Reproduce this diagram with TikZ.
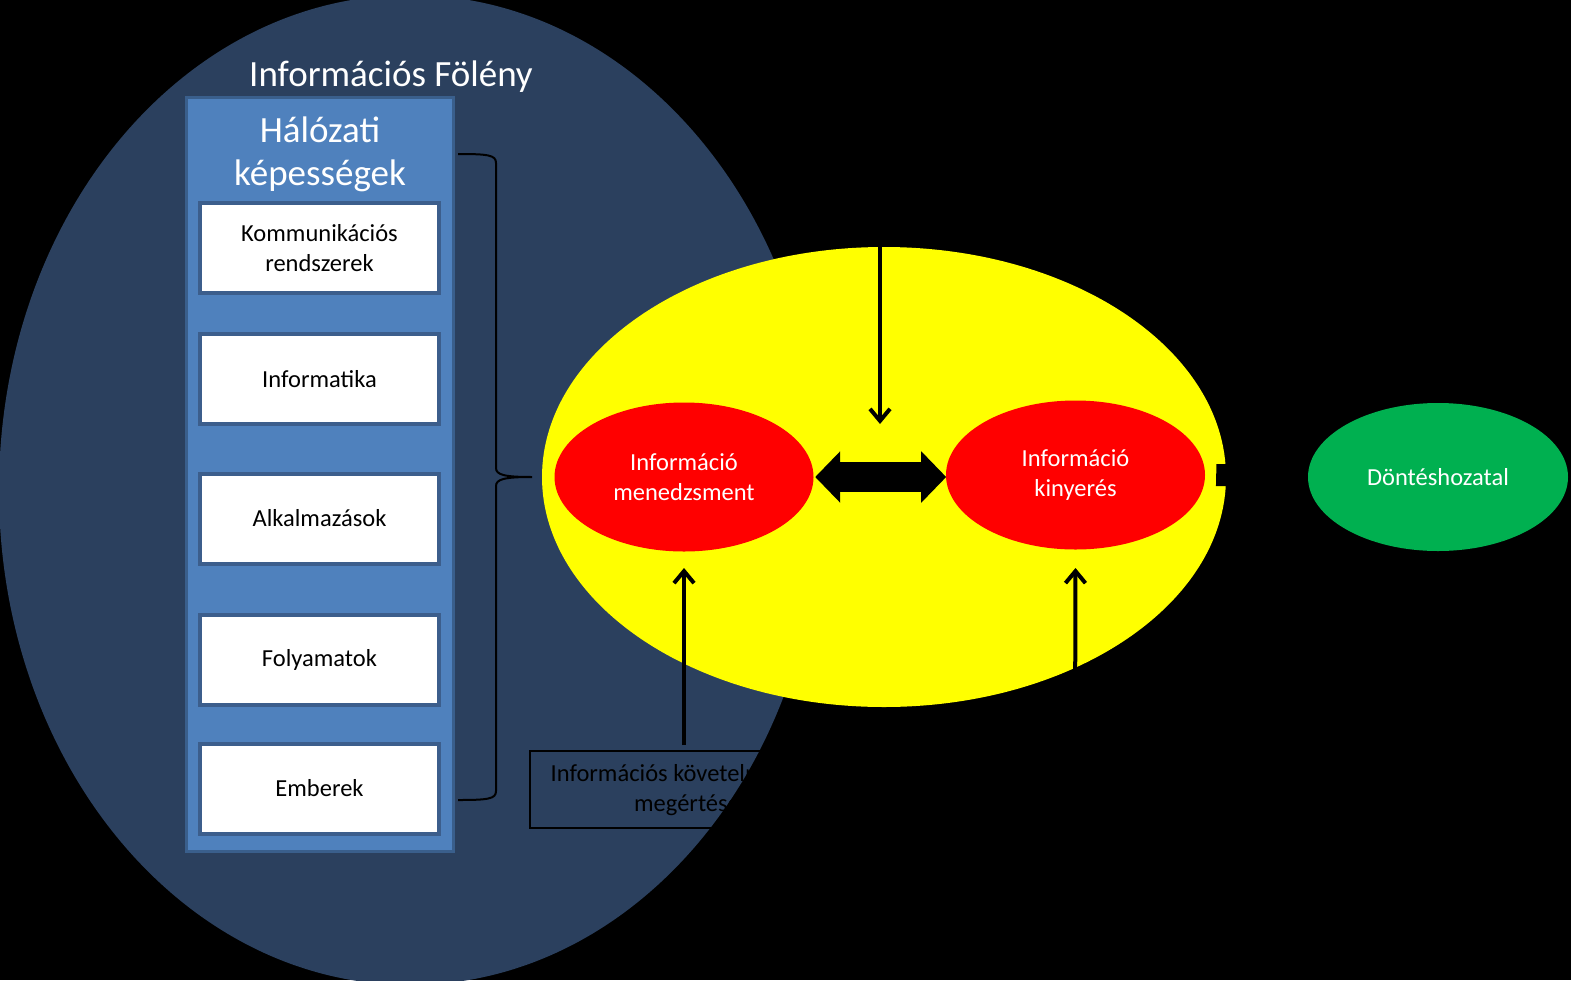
\documentclass[tikz,border=0pt]{standalone}
\usepackage{fontspec}
\setmainfont{Carlito}
\usetikzlibrary{shapes.geometric,arrows.meta,calc}
\definecolor{darkell}{RGB}{43,64,94}
\definecolor{panelfill}{RGB}{79,129,189}
\definecolor{panelline}{RGB}{58,95,140}
\definecolor{boxline}{RGB}{60,94,140}
\definecolor{greenell}{RGB}{0,176,80}
\definecolor{yel}{RGB}{255,255,0}
\tikzset{
  whitebox/.style={draw=boxline, fill=white, line width=4pt, minimum width=239pt, minimum height=90pt, inner sep=0pt, align=center, font=\fontsize{24.5}{30}\selectfont, text=black},
  redell/.style={ellipse, fill=red, minimum width=259pt, minimum height=149pt, inner sep=0pt, align=center, text=white, font=\fontsize{24.5}{30}\selectfont},
  thinarrow/.style={draw=black, line width=4pt, -{Straight Barb[length=12pt,width=20pt,line width=4pt]}},
  bigtitle/.style={text=white, font=\fontsize{37}{43}\selectfont, align=center, inner sep=0pt}
}
\begin{document}
\begin{tikzpicture}[x=1pt,y=-1pt]
\useasboundingbox (0,0) rectangle (1571,980);
\fill[black] (0,0) rectangle (1571,980);
% big dark ellipse
\node[ellipse, fill=darkell, minimum width=822pt, minimum height=990pt, inner sep=0pt] (fol) at (410,490) {};
\node[bigtitle] (foltitle) at (391,77) {Információs Fölény};
% panel
\node[draw=panelline, fill=panelfill, line width=3pt, minimum width=267pt, minimum height=754pt, inner sep=0pt] (panel) at (320,474.5) {};
\node[bigtitle] (paneltitle) at (320,154) {Hálózati\\képességek};
\node[whitebox] (b1) at (319.5,248) {Kommunikációs\\rendszerek};
\node[whitebox] (b2) at (319.5,379) {Informatika};
\node[whitebox] (b3) at (319.5,518.5) {Alkalmazások};
\node[whitebox] (b4) at (319.5,660) {Folyamatok};
\node[whitebox] (b5) at (319.5,788.5) {Emberek};
% brace
\coordinate (brtop) at (458,154);
\coordinate (brbot) at (458,800);
\coordinate (brtip) at (532,477);
\draw[black, line width=2pt] (brtop) .. controls (488,154) and (496,155) .. (496,163)
  -- (496,468) .. controls (496,475) and (505,477) .. (brtip)
  (brtip) .. controls (505,477) and (496,479) .. (496,486)
  -- (496,791) .. controls (496,799) and (488,800) .. (brbot);
% text box (black on dark)
\draw[black, line width=2pt] (530,751) rectangle (842,828);
\node[text=black, align=center, font=\fontsize{24.5}{30}\selectfont, inner sep=0pt] (req) at (687,790) {Információs követelmények\\megértése};
\coordinate (reqtop) at (684,745);
\coordinate (req2top) at (1075,745);
% yellow ellipse
\node[ellipse, fill=yel, minimum width=684pt, minimum height=460pt, inner sep=0pt] (yelell) at (884,477) {};
% red and green ellipses
\node[redell] (mgmt) at (684,477) {Információ\\menedzsment};
\node[redell] (kin) at (1075.5,475) {Információ\\kinyerés};
\node[ellipse, fill=greenell, minimum width=260pt, minimum height=148pt, inner sep=0pt, text=white, font=\fontsize{24.5}{30}\selectfont] (dont) at (1438,477) {Döntéshozatal};
% double block arrow
\draw[black, line width=30pt, {Triangle[length=25pt,width=50pt]}-{Triangle[length=25pt,width=50pt]}] ($(mgmt.east)+(1.5,0)$) -- ($(mgmt.east)+(132.5,0)$);
% top arrow
\coordinate (topstart) at (880,150);
\draw[thinarrow] (topstart) -- (880,424);
% bottom arrows
\draw[thinarrow] (reqtop) -- (mgmt.south |- 0,568);
\draw[thinarrow] (req2top) -- (kin.south |- 0,568);
% arrow to decision (black on black)
\draw[black, line width=22pt, -{Triangle[length=25pt,width=45pt]}] ($(kin.east)+(11,0)$) -- ($(dont.west)+(-3,0)$);
\end{tikzpicture}
\end{document}
